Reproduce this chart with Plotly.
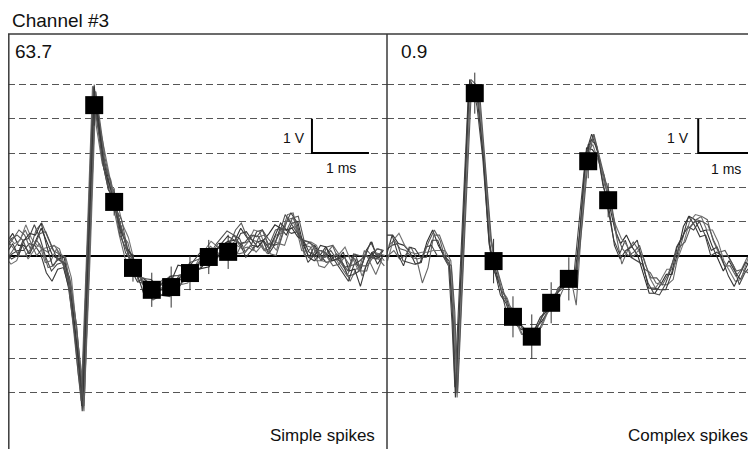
import plotly.graph_objects as go

# page is shown with the browser's 8px body margin; the figure covers page x 8..756, y 8..449
OFF = 8
W, H = 756 - OFF, 449 - OFF
PX_PER_MS = 57.0

# ---------------- data: Simple spikes (left panel) ----------------
t_simple = [0.0, 0.1, 0.2, 0.3, 0.4, 0.5, 0.6, 0.7, 0.8, 0.9, 1.0,
            1.1, 1.2, 1.27, 1.33, 1.43, 1.53, 1.6, 1.7, 1.8, 1.88,
            2.0, 2.1, 2.2, 2.3, 2.4, 2.54, 2.7, 2.88, 3.0, 3.2, 3.4, 3.55, 3.7, 3.88,
            4.0, 4.1, 4.2, 4.3, 4.4, 4.5, 4.6, 4.7, 4.8, 4.9, 5.0, 5.1, 5.2, 5.3,
            5.4, 5.5, 5.6, 5.7, 5.8, 5.9, 6.0, 6.1, 6.2, 6.3, 6.4, 6.5, 6.6]
v_simple = [0.1, 0.2, 0.15, 0.3, 0.2, 0.3, 0.35, 0.1, 0.0, 0.05, -0.2,
            -0.8, -2.2, -3.3, -4.4, 0.2, 4.8, 3.9, 2.7, 2.07, 1.58,
            0.75, 0.23, -0.3, -0.62, -0.82, -1.0, -1.0, -0.9, -0.73, -0.5, -0.23, -0.03, 0.06, 0.12,
            0.3, 0.35, 0.25, 0.3, 0.4, 0.3, 0.2, 0.3, 0.5, 0.6, 0.8, 0.7, 0.3, 0.1,
            0.15, 0.0, 0.1, 0.0, -0.1, -0.2, -0.3, -0.1, -0.3, 0.0, 0.1, -0.1, 0.0]
# per-trace deviations (units of 0.15 V) read from the overlaid sweeps
noise_simple = [
    [2,3,1,0,-1,1,3,2,0,-1,0, 1,0,-1,1,0,1,0,1,0,0, 1,0,-1,0,1,0,1,2,1,0,-1,0,1,2,
     1,3,2,0,-1,1,3,4,2,0,1,2,0,-1,1,0,-2,-1,0,1,2,0,-1,1,2,0,1],
    [-1,0,2,3,1,-2,-1,0,2,1,-1, 0,1,0,-1,0,-1,0,-1,1,0, -1,1,0,1,-1,-2,-1,0,1,-1,1,2,0,-1,
     -2,0,1,2,1,-1,0,2,1,4,3,-1,0,1,-2,-1,0,2,1,-1,-3,-2,0,1,-1,0,-2],
    [0,-2,-1,1,2,4,1,-1,-3,-2,0, -1,0,1,0,-1,1,1,0,-1,1, 0,-1,1,2,0,1,-1,-2,0,1,2,0,-1,1,
     2,1,-1,0,2,3,1,0,-1,2,3,2,0,-2,-1,1,0,-1,1,0,-2,-3,-1,0,2,1,-1],
    [3,1,2,4,2,0,-1,1,2,0,1, 1,-1,0,2,-1,0,-1,1,0,1, 1,2,1,0,-1,0,2,1,-1,0,2,3,1,0,
     0,-1,1,3,2,0,1,-1,2,3,1,-1,0,2,1,-1,-2,0,1,3,1,0,-2,-1,0,1,0],
    [-2,-1,0,-1,1,0,-2,-4,-5,-3,-1, -1,0,1,-1,1,0,0,1,-1,0, 0,1,-1,-1,1,2,0,-1,-2,1,0,-1,1,3,
     1,0,-2,-1,0,1,-1,0,2,1,-1,0,1,-1,-2,0,1,0,-1,-2,-3,-1,1,0,-1,2,1],
    [1,2,4,2,0,3,4,3,1,0,-1, 0,1,-1,0,1,-1,1,0,1,-1, 2,0,1,-1,0,1,1,-1,0,2,1,0,2,1,
     3,4,2,1,0,-1,1,3,2,1,2,3,1,2,0,-1,1,2,0,-1,0,1,-1,-3,0,2,1],
    [-1,-3,-2,0,-2,-1,0,-2,-1,1,0, 1,0,0,1,0,1,-1,0,1,0, -1,-2,0,1,1,-1,0,1,-1,-2,0,1,0,-1,
     -1,-2,-1,0,-2,0,-1,1,-1,-2,0,1,-1,0,1,-2,-3,-1,0,-1,-2,0,-1,1,-2,-3,-1],
    [0,1,-1,1,3,2,4,1,-2,-1,1, 0,-1,1,1,0,0,1,-1,0,0, 1,0,2,0,-2,-1,0,1,3,1,-1,-2,1,2,
     0,2,3,1,-1,1,0,2,3,1,0,-1,1,0,-1,2,1,-1,0,2,-1,-2,-4,-2,0,-1,0],
    [2,0,-1,-2,0,1,-1,-3,-2,0,1, -1,1,0,0,-1,0,1,1,0,-1, 0,-1,-2,0,1,0,-1,0,1,0,1,-1,0,1,
     1,-1,0,-1,1,2,-1,-2,0,3,2,0,-2,-1,0,1,-1,-2,-1,1,0,-1,0,-2,-1,1,-1],
    [1,2,3,1,-1,0,2,4,2,-1,0, 0,0,-1,1,1,-1,0,0,-1,1, -1,0,1,2,0,-1,1,2,0,-1,-1,0,2,4,
     2,0,1,2,1,3,2,0,1,4,1,0,1,2,1,0,-1,1,0,0,-1,1,2,0,-1,0,1],
]
shift_simple = [0.0, 0.02, -0.02, 0.03, -0.01, 0.01, -0.03, 0.0, 0.02, -0.02]
sq_t_simple = [1.53, 1.88, 2.21, 2.54, 2.88, 3.21, 3.54, 3.88]
sq_v_simple = [4.40, 1.57, -0.36, -1.0, -0.92, -0.51, -0.04, 0.11]
sq_err_simple = [0.6, 0.4, 0.4, 0.5, 0.6, 0.5, 0.5, 0.5]

# ---------------- data: Complex spikes (right panel) ----------------
t_complex = [0.0, 0.1, 0.2, 0.3, 0.4, 0.5, 0.6, 0.7, 0.8, 0.9, 1.0,
             1.1, 1.16, 1.21, 1.33, 1.45, 1.54, 1.6, 1.7, 1.8, 1.86,
             2.0, 2.1, 2.21, 2.35, 2.54, 2.7, 2.88, 3.0, 3.19, 3.3, 3.4, 3.5, 3.6, 3.7, 3.8, 3.88,
             4.0, 4.1, 4.2, 4.3, 4.4, 4.5, 4.6, 4.7, 4.8, 4.9, 5.0, 5.1, 5.2, 5.3,
             5.4, 5.5, 5.6, 5.7, 5.8, 5.9, 6.0, 6.1, 6.2, 6.3, 6.4, 6.5, 6.6]
v_complex = [0.0, 0.3, 0.2, 0.0, 0.1, -0.1, -0.2, 0.1, 0.3, 0.15, 0.0,
             -0.3, -1.8, -4.0, 0.5, 5.0, 4.85, 4.5, 2.7, 0.5, -0.15,
             -1.0, -1.4, -1.78, -2.15, -2.37, -1.95, -1.37, -1.1, -0.67, -0.7, 1.0, 3.0, 3.4, 2.9, 2.2, 1.64,
             0.6, 0.05, 0.15, 0.1, 0.0, -0.4, -0.8, -0.95, -0.85, -0.7, -0.4, 0.1, 0.55, 1.0,
             1.05, 0.85, 0.6, 0.3, 0.1, -0.15, -0.3, -0.45, -0.55, -0.35, -0.15, -0.1, -0.1]
noise_complex = [
    [4,2,1,2,0,-1,0,2,3,1,0, 0,1,0,-1,1,0,1,0,-1,0, 0,1,-1,0,1,0,-1,1,0,-1,0,1,-2,0,1,0,
     1,2,3,1,0,-1,-2,-1,0,1,-1,0,2,1,0,-1,1,0,-1,-2,1,0,-1,0,1,2,1],
    [0,-1,-2,0,1,0,-4,-3,2,3,1, 1,0,-1,0,1,1,0,-1,0,1, -1,0,1,-1,0,1,0,-1,1,-5,0,0,1,0,-1,1,
     0,-2,0,2,1,0,2,1,0,-1,-2,0,1,-1,0,2,3,1,0,-1,0,-1,1,2,0,-1,0],
    [1,0,1,-1,-2,-1,0,1,0,-1,0, 0,-1,1,0,-1,0,-1,1,1,-1, 1,-1,0,1,-1,0,1,0,-1,1,1,-1,0,2,0,-1,
     -1,0,2,-1,-1,1,0,-1,-2,-1,0,1,0,-1,-2,1,0,-2,0,1,2,1,-2,-1,-1,0,1],
    [-1,1,3,2,0,1,2,0,-1,0,1, -1,0,0,1,0,-1,1,0,0,1, 0,1,0,-1,1,-1,0,1,0,-1,1,0,-1,-1,1,0,
     2,3,1,-1,1,2,1,0,1,2,0,-1,-1,0,1,2,1,3,2,0,-1,-2,-1,1,3,1,0],
    [0,2,-1,-2,1,2,1,-1,1,2,0, 1,0,-1,-1,0,1,0,1,-1,0, -1,0,-1,1,0,1,-1,0,1,0,-1,0,1,1,-1,0,
     -2,-1,0,1,3,1,-1,0,-1,-2,-1,1,0,1,-1,-2,0,-1,1,0,-2,-3,0,1,-1,-2,-1],
    [2,1,0,1,-1,0,1,2,3,2,-1, 0,1,0,0,-1,0,1,-1,0,0, 0,-1,1,0,-1,0,1,1,0,1,0,-1,1,0,0,1,
     0,1,-1,0,2,1,1,2,0,1,2,1,-1,-1,0,1,2,1,0,2,1,0,1,-1,0,1,2],
]
shift_complex = [0.0, 0.02, -0.02, 0.01, -0.01, 0.03]
sq_t_complex = [1.54, 1.87, 2.21, 2.54, 2.88, 3.19, 3.53, 3.88]
sq_v_complex = [4.75, -0.16, -1.79, -2.37, -1.38, -0.68, 2.76, 1.62]
sq_err_complex = [0.6, 0.65, 0.6, 0.65, 0.6, 0.63, 0.5, 0.5]

# scale bars (1 V, 1 ms)
scale_t_simple = [5.35, 5.35, 6.35]
scale_t_complex = [5.46, 5.46, 6.46]
scale_v = [4.0, 3.0, 3.0]
grid_levels = [-4, -3, -2, -1, 1, 2, 3, 4, 5]

for arr in noise_simple:
    assert len(arr) == len(t_simple), len(arr)
for arr in noise_complex:
    assert len(arr) == len(t_complex), len(arr)
assert len(v_simple) == len(t_simple) and len(v_complex) == len(t_complex)

NOISE_UNIT = 0.15
grays = ['#2e2e2e', '#646464', '#444444', '#737373', '#3a3a3a',
         '#585858', '#6b6b6b', '#363636', '#5e5e5e', '#4e4e4e']

fig = go.Figure()

def add_sweeps(ts, vs, noises, shifts, xa, ya):
    for i, (nz, sh) in enumerate(zip(noises, shifts)):
        fig.add_trace(go.Scatter(
            x=[t + sh for t in ts],
            y=[v + NOISE_UNIT * n for v, n in zip(vs, nz)],
            mode='lines', line=dict(color=grays[i % len(grays)], width=1.1),
            xaxis=xa, yaxis=ya, hoverinfo='skip', showlegend=False))

add_sweeps(t_simple, v_simple, noise_simple, shift_simple, 'x', 'y')
add_sweeps(t_complex, v_complex, noise_complex, shift_complex, 'x2', 'y2')

for ts, vs, es, xa, ya in [(sq_t_simple, sq_v_simple, sq_err_simple, 'x', 'y'),
                           (sq_t_complex, sq_v_complex, sq_err_complex, 'x2', 'y2')]:
    fig.add_trace(go.Scatter(
        x=ts, y=vs, mode='markers',
        marker=dict(symbol='square', size=18, color='black', line=dict(width=0)),
        error_y=dict(type='data', array=es, color='#333333', thickness=1, width=0),
        xaxis=xa, yaxis=ya, hoverinfo='skip', showlegend=False))

for ts, xa, ya in [(scale_t_simple, 'x', 'y'), (scale_t_complex, 'x2', 'y2')]:
    fig.add_trace(go.Scatter(x=ts, y=scale_v, mode='lines',
                             line=dict(color='black', width=2),
                             xaxis=xa, yaxis=ya, hoverinfo='skip', showlegend=False))

# page-pixel geometry of the reference
TOP = 34          # top border (page y)
LEFT = 7          # left border (page x)
DIV = 387         # divider between panels (page x)

def fx(px):
    return (px - OFF) / W

def fy(py):
    return 1 - (py - OFF) / H

ytop = fy(TOP)
yrange = [-5.655, 6.48]
yax = dict(domain=[0, ytop], range=yrange, tickvals=grid_levels, showticklabels=False,
           showgrid=True, gridcolor='#555555', gridwidth=1.3, griddash='7px,4px',
           zeroline=True, zerolinecolor='black', zerolinewidth=1.5,
           showline=False, ticks='', fixedrange=True)
xax = dict(showgrid=False, zeroline=False, showticklabels=False, ticks='',
           showline=False, fixedrange=True)

FONT = 'Liberation Sans, Arial, Helvetica, sans-serif'

def ann(text, px, py, size, xanchor='left'):
    return dict(text=text, x=fx(px), y=fy(py), xref='paper', yref='paper',
                xanchor=xanchor, yanchor='middle', showarrow=False,
                font=dict(family=FONT, size=size, color='#111111'))

line_col = '#3a3a3a'
left_start = (OFF - LEFT) / PX_PER_MS
fig.update_layout(
    width=W, height=H, margin=dict(l=0, r=0, t=0, b=0),
    paper_bgcolor='white', plot_bgcolor='white', showlegend=False,
    xaxis=dict(xax, domain=[0, fx(DIV)], range=[left_start, (DIV - LEFT) / PX_PER_MS]),
    xaxis2=dict(xax, domain=[fx(DIV), 1], range=[0, (756 - DIV) / PX_PER_MS], anchor='y2'),
    yaxis=dict(yax, anchor='x'),
    yaxis2=dict(yax, anchor='x2'),
    shapes=[
        dict(type='line', xref='paper', yref='paper', x0=0, x1=1, y0=ytop, y1=ytop,
             line=dict(color=line_col, width=1.5)),
        dict(type='line', xref='paper', yref='paper', x0=0.8 / W, x1=0.8 / W, y0=0, y1=ytop,
             line=dict(color=line_col, width=1.5)),
        dict(type='line', xref='paper', yref='paper', x0=fx(DIV), x1=fx(DIV), y0=0, y1=ytop,
             line=dict(color=line_col, width=1.5)),
    ],
    annotations=[
        ann('Channel #3', 10, 20, 19),
        ann('63.7', 13, 52, 19),
        ann('0.9', 399, 52, 19),
        ann('1 V', 307, 138, 14, 'right'),
        ann('1 V', 691, 138, 14, 'right'),
        ann('1 ms', 341, 168, 14, 'center'),
        ann('1 ms', 726, 169, 14, 'center'),
        ann('Simple spikes', 377, 435, 17, 'right'),
        ann('Complex spikes', 750, 435, 17, 'right'),
    ],
)

fig.write_html('out.html')
